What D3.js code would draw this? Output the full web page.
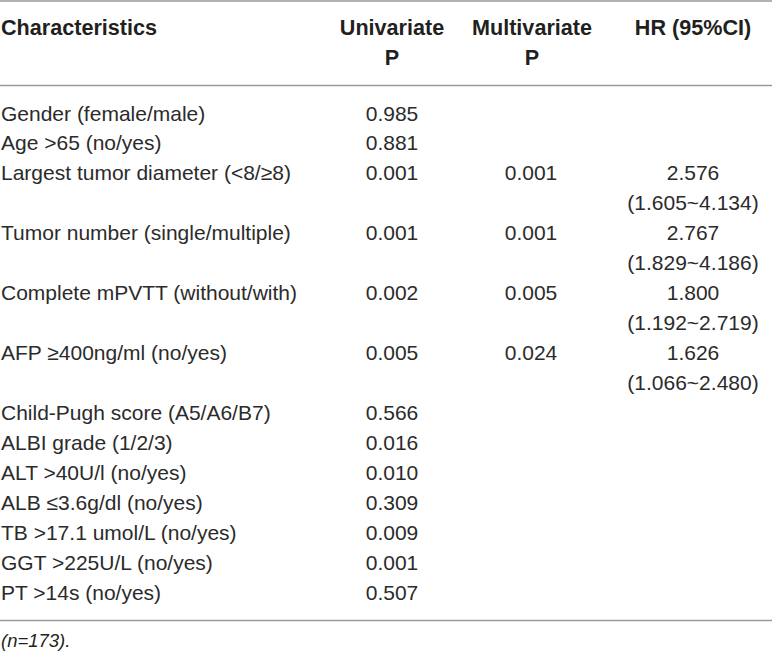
<!DOCTYPE html>
<html>
<head>
<meta charset="utf-8">
<script src="https://cdn.jsdelivr.net/npm/d3@7"></script>
<style>
  html, body { margin: 0; padding: 0; background: #fff; }
  svg { display: block; }
  text { font-family: "Liberation Sans", Arial, Helvetica, sans-serif; fill: #231f20; }
  .body text { fill: #2b2b2b; }
</style>
</head>
<body>
<svg id="chart" width="772" height="653"></svg>
<script>
// ---- data ----
const headerLine1 = ["Characteristics", "Univariate", "Multivariate", "HR (95%CI)"];
const headerLine2 = ["", "P", "P", ""];
const characteristics = [
  "Gender (female/male)",
  "Age >65 (no/yes)",
  "Largest tumor diameter (<8/\u22658)",
  "Tumor number (single/multiple)",
  "Complete mPVTT (without/with)",
  "AFP \u2265400ng/ml (no/yes)",
  "Child-Pugh score (A5/A6/B7)",
  "ALBI grade (1/2/3)",
  "ALT >40U/l (no/yes)",
  "ALB \u22643.6g/dl (no/yes)",
  "TB >17.1 umol/L (no/yes)",
  "GGT >225U/L (no/yes)",
  "PT >14s (no/yes)"
];
const univariateP = ["0.985","0.881","0.001","0.001","0.002","0.005","0.566","0.016","0.010","0.309","0.009","0.001","0.507"];
const multivariateP = ["","","0.001","0.001","0.005","0.024","","","","","","",""];
const hrValues = ["","","2.576","2.767","1.800","1.626","","","","","","",""];
const hrCI = ["","","(1.605~4.134)","(1.829~4.186)","(1.192~2.719)","(1.066~2.480)","","","","","","",""];
const footnote = "(n=173).";

// ---- layout ----
const svg = d3.select("#chart");
const W = 772;
const fs = 21;
const hfs = 21.6;

// line index for each row (rows with a CI use two lines)
let idx = 0;
const rows = characteristics.map((c, i) => {
  const r = { c, u: univariateP[i], m: multivariateP[i], hr: hrValues[i], ci: hrCI[i], line: idx };
  idx += r.ci ? 2 : 1;
  return r;
});
const nLines = idx;

// y scale: line index -> text baseline
const y = d3.scaleLinear().domain([0, nLines - 1]).range([120.5, 599.5]);

// column positions
const colX = d3.scaleOrdinal().domain(["c","u","m","hr"]).range([1, 392, 531, 693]);
const headX = [1, 392, 532, 693];
const headAnchor = ["start","middle","middle","middle"];

// rules
const rules = [1, 85.5, 620.5];
svg.selectAll("line.rule").data(rules).join("line")
  .attr("class","rule")
  .attr("x1", 0).attr("x2", W)
  .attr("y1", d => d).attr("y2", d => d)
  .attr("stroke", "#9a9a9a").attr("stroke-width", 1.3);

// header
const hg = svg.append("g").attr("font-weight", "bold").attr("font-size", hfs);
hg.selectAll("text.h1").data(headerLine1).join("text")
  .attr("class","h1")
  .attr("x", (d,i) => headX[i]).attr("y", 35)
  .attr("text-anchor", (d,i) => headAnchor[i])
  .text(d => d);
hg.selectAll("text.h2").data(headerLine2).join("text")
  .attr("class","h2")
  .attr("x", (d,i) => headX[i]).attr("y", 64.5)
  .attr("text-anchor", (d,i) => headAnchor[i])
  .text(d => d);

// body
const bg = svg.append("g").attr("class","body").attr("font-size", fs);
const rg = bg.selectAll("g.row").data(rows).join("g").attr("class","row");
rg.append("text").attr("x", colX("c")).attr("y", d => y(d.line)).attr("text-anchor","start").text(d => d.c);
rg.append("text").attr("x", colX("u")).attr("y", d => y(d.line)).attr("text-anchor","middle").text(d => d.u);
rg.append("text").attr("x", colX("m")).attr("y", d => y(d.line)).attr("text-anchor","middle").text(d => d.m);
rg.append("text").attr("x", colX("hr")).attr("y", d => y(d.line)).attr("text-anchor","middle").text(d => d.hr);
rg.filter(d => d.ci).append("text").attr("x", colX("hr")).attr("y", d => y(d.line + 1)).attr("text-anchor","middle").text(d => d.ci);

// footnote
svg.append("text")
  .attr("x", 1).attr("y", 647)
  .attr("font-size", 18.5).attr("font-style", "italic")
  .attr("fill", "#2b2b2b")
  .text(footnote);
</script>
</body>
</html>
